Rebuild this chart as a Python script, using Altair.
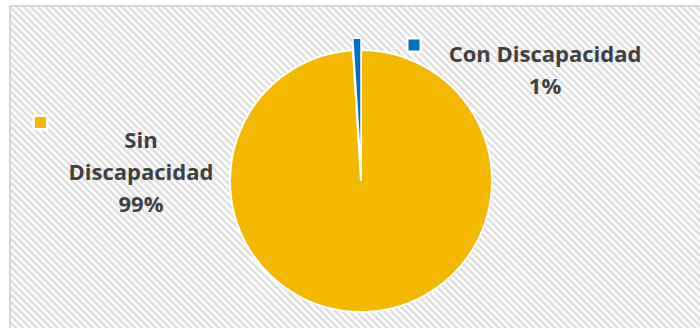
import altair as alt
import pandas as pd

categories = ["Sin Discapacidad", "Con Discapacidad"]
values = [99, 1]
colors = ["#F5B800", "#0070C0"]
wrap_label = [True, False]

labels = []
for c, v, w in zip(categories, values, wrap_label):
    name = c.replace(" ", "\n") if w else c
    labels.append(f"{name}\n{v}%")

df = pd.DataFrame({
    "category": categories,
    "value": values,
    "order": list(range(len(categories))),
    "label": labels,
})

color_scale = alt.Scale(domain=categories, range=colors)

W, H = 700, 328
CX, CY, R = 361, 181, 131

# background diagonal hatch
stripes = (
    alt.Chart(alt.sequence(-340, 710, 7, as_="c"))
    .transform_calculate(
        xa="max(10, datum.c + 6)",
        ya="max(10, datum.c + 6) - datum.c",
        xb="min(702, datum.c + 330)",
        yb="min(702, datum.c + 330) - datum.c",
    )
    .transform_filter("datum.xa < datum.xb")
    .mark_rule(strokeWidth=2.6, color="#e0e0e0")
    .encode(
        x=alt.X("xa:Q", scale=None, axis=None),
        y=alt.Y("ya:Q", scale=None, axis=None),
        x2="xb:Q",
        y2="yb:Q",
    )
)

border = alt.Chart(df.head(1)).mark_rect(
    filled=False, stroke="#d6d6d6", strokeWidth=2
).encode(x=alt.value(10), x2=alt.value(720), y=alt.value(6), y2=alt.value(340))

base = alt.Chart(df).encode(
    theta=alt.Theta("value:Q", stack=True),
    color=alt.Color("category:N", scale=color_scale, legend=None),
    order=alt.Order("order:Q"),
    x=alt.value(CX),
    y=alt.value(CY),
)

pie_main = base.mark_arc(radius=R, stroke="white", strokeWidth=2).encode(
    opacity=alt.condition(alt.datum.category == categories[0], alt.value(1), alt.value(0))
)
pie_explode = base.mark_arc(radius=R, stroke="white", strokeWidth=1.5, yOffset=-12).encode(
    opacity=alt.condition(alt.datum.category == categories[1], alt.value(1), alt.value(0))
)

def marker(cat, x, y):
    return (
        alt.Chart(df)
        .transform_filter(alt.datum.category == cat)
        .mark_point(shape="square", filled=True, size=182, stroke="white", strokeWidth=2.5, opacity=1)
        .encode(
            x=alt.value(x),
            y=alt.value(y),
            fill=alt.Fill("category:N", scale=color_scale, legend=None),
        )
    )

def label(cat, x, y):
    return (
        alt.Chart(df)
        .transform_filter(alt.datum.category == cat)
        .mark_text(
            font="Open Sans", fontWeight="bold", fontSize=22, color="#404040",
            align="center", baseline="alphabetic", lineBreak="\n", lineHeight=32,
        )
        .encode(x=alt.value(x), y=alt.value(y), text="label:N")
    )

chart = alt.layer(
    stripes,
    border,
    pie_main,
    pie_explode,
    marker(categories[0], 40.5, 122.5),
    marker(categories[1], 414, 45),
    label(categories[0], 141, 148),
    label(categories[1], 545, 62),
).properties(
    width=W, height=H, padding=0, autosize=alt.AutoSizeParams(type="none"),
    background="white",
).configure_view(stroke=None)

chart.save("out.html", embed_options={"renderer": "svg", "actions": False})
